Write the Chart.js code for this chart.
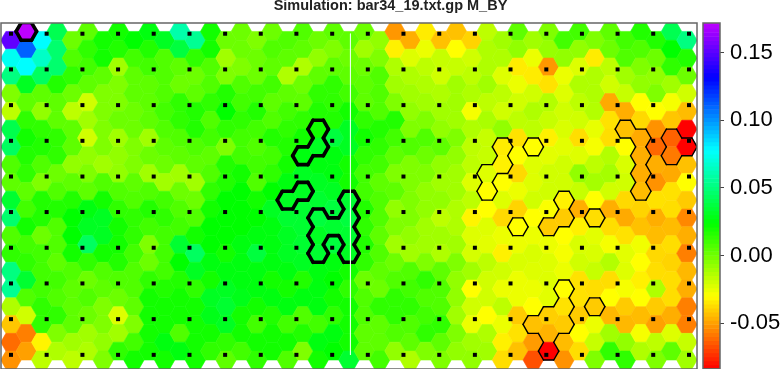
<!DOCTYPE html>
<html>
<head>
<meta charset="utf-8">
<title>Simulation: bar34_19.txt.gp M_BY</title>
<script src="https://cdn.jsdelivr.net/npm/chart.js@4"></script>
<style>
  body { margin: 0; background: #fff; }
  #wrap { position: relative; width: 783px; height: 369px; overflow: hidden; }
  canvas { position: absolute; top: 0; display: block; }
  #hexChart { left: 0; }
  #barChart { left: 700px; }
</style>
</head>
<body>
<div id="wrap">
  <canvas id="hexChart" width="783" height="369"></canvas>
  <!-- taller than the page: the axis keeps room under its last label, which the wrap cuts off -->
  <canvas id="barChart" width="83" height="388"></canvas>
</div>
<script>
const titleText = 'Simulation: bar34_19.txt.gp M_BY';

// M_BY per hex column, top to bottom, in units of 0.001
const mBy = [
  [152,75,51,-3,-16,40,44,7,4,34,47,7,14,51,55,-13,-42,-61,-53],
  [172,111,78,31,4,14,20,17,14,4,10,20,10,14,34,7,-20,-57,-50],
  [78,66,44,4,-7,14,17,7,-3,17,17,1,10,10,10,14,14,-32,-16],
  [41,47,47,17,4,4,14,14,1,7,17,7,7,4,10,7,14,-3,-13],
  [1,7,14,1,-16,4,4,-7,4,17,24,24,20,7,4,4,4,-10,-16],
  [4,14,10,4,-20,-10,-20,-7,-3,4,27,31,44,14,1,7,1,-10,-13],
  [20,20,4,-3,-3,-3,-3,-10,7,20,31,31,20,7,4,-3,-3,-7,-3],
  [20,17,-10,-3,-3,1,-10,-7,-7,7,14,20,20,17,7,1,-23,-10,14],
  [24,10,4,4,1,1,-3,-3,4,7,14,14,10,7,7,4,-3,10,20],
  [27,17,10,4,4,4,-10,1,-10,7,17,10,-3,1,14,20,20,20,20],
  [31,7,7,7,10,7,4,1,-10,10,14,10,10,10,17,20,20,27,20],
  [60,37,4,1,14,14,7,4,-10,1,7,10,34,24,17,20,20,7,27],
  [55,14,1,4,17,17,7,4,-10,1,7,20,44,31,14,20,20,20,20],
  [20,20,7,7,14,7,10,4,7,14,20,24,24,27,20,31,29,20,14],
  [1,-10,-3,17,24,14,-3,17,17,24,24,24,20,27,31,34,31,14,4],
  [1,1,-3,7,10,14,10,10,20,24,24,24,27,27,27,29,20,20,10],
  [-3,1,1,10,17,10,7,10,7,20,24,27,37,27,27,20,10,20,14],
  [1,7,4,10,4,7,17,10,14,24,31,27,27,27,20,27,17,20,20],
  [7,4,-13,4,10,14,17,20,27,31,34,31,31,27,20,27,10,20,7],
  [7,4,-13,1,4,14,20,27,31,31,34,34,34,31,17,27,7,17,-3],
  [1,-7,4,14,17,20,31,27,31,34,37,31,34,27,27,27,10,27,20],
  [4,-3,4,14,14,17,37,27,27,31,37,34,37,27,24,20,14,27,24],
  [4,1,4,10,20,31,31,20,20,34,37,34,31,20,14,20,20,20,34],
  [1,-10,1,4,4,14,20,14,10,10,17,14,17,14,1,7,7,4,4],
  [-7,-3,7,7,7,17,14,10,4,7,7,4,7,4,1,14,4,4,10],
  [-52,-33,-13,-10,-3,17,10,4,-3,4,-7,-3,-10,1,7,14,14,7,-7],
  [-47,-23,-13,-10,-7,-3,7,-3,-3,-3,-3,-7,-10,7,10,14,7,4,-13],
  [-34,-26,-16,-13,-10,-3,7,1,-3,-7,-7,-10,-10,-3,14,7,10,14,-3],
  [-43,-18,-20,-13,-10,-7,4,-7,-10,-7,-16,-10,-13,4,7,7,14,4,-3],
  [-43,-30,-18,-10,-10,-10,-3,-7,-10,-10,-13,-13,-10,-3,-7,-7,-10,-3,-7],
  [-39,-20,-16,-13,-28,-13,-16,-16,-23,-16,-32,-23,-21,-10,-30,-20,-26,-10,-7],
  [-16,-13,-13,-10,-16,-12,-18,-18,-23,-30,-30,-23,-24,-16,-20,-20,-30,-13,-10],
  [-10,-13,-23,-16,-20,-7,-34,-33,-30,-23,-38,-26,-33,-20,-26,-16,-26,-33,-37],
  [4,-7,-34,-26,-20,-16,-36,-30,-38,-26,-39,-30,-26,-22,-26,-26,-41,-36,-43],
  [-10,-26,-34,-20,-13,-16,-30,-23,-23,-20,-30,-26,-22,-23,-26,-30,-43,-51,-67],
  [-3,-8,-52,-36,-14,-18,-33,-24,-20,-20,-29,-41,-26,-23,-23,-24,-40,-46,-84],
  [10,-7,-26,-23,-20,-22,-24,-20,-20,-33,-41,-30,-28,-26,-30,-36,-41,-44,-53],
  [10,-7,-23,-13,-16,-20,-37,-23,-7,-18,-47,-33,-22,-20,-36,-36,-41,-30,-37],
  [-3,-34,-13,-13,-14,-25,-28,-16,-11,-30,-37,-24,-22,-18,-37,-41,-26,-18,-3],
  [4,1,-16,-20,-48,-36,-37,-14,-11,-20,-47,-37,-28,-14,-37,-30,-45,-10,14],
  [10,7,-10,-18,-47,-43,-30,-22,-20,-38,-48,-36,-24,-23,-28,-41,-45,-7,14],
  [17,7,-3,-7,-30,-38,-48,-47,-47,-44,-39,-43,-27,-30,-33,-30,-44,-28,-13],
  [17,1,-7,-3,-30,-53,-62,-47,-53,-36,-47,-44,-38,-37,-13,-41,-50,-16,-3],
  [41,24,14,-10,-28,-42,-63,-58,-48,-36,-37,-44,-37,-39,-37,-37,-47,-23,4],
  [51,17,1,-20,-44,-84,-84,-43,-30,-41,-55,-47,-57,-45,-47,-57,-57,-18,-10]
];

// outlined clusters as [column, row] cells
const thickCells = [
  [1,0],
  [20,5],[20,6],[19,7],
  [18,9],[19,9],
  [22,9],[22,10],[22,11],[22,12],[21,11],[20,10],[20,11],[20,12]
];
const thinCells = [
  [32,6],[32,7],[31,8],[31,9],
  [34,6],
  [33,11],
  [36,9],[36,10],[35,11],
  [38,10],
  [40,5],[41,6],[41,7],[41,8],[41,9],
  [43,6],[43,7],[44,6],
  [36,14],[36,15],[36,16],[35,16],[35,17],[35,18],[34,16],
  [38,15]
];

// black marker lattice, in hex column / row units
const dotX = [0,2.32,4.65,6.97,9.29,11.62,13.94,16.26,18.58,20.91,23.23,25.55,27.88,30.2,32.52,34.85,37.17,39.49,41.81,44.14];
const dotY = [-0.37,1.64,3.65,5.66,7.67,9.67,11.68,13.69,15.7,17.71];

// white seam line
const seamX = [22.1, 22.1];
const seamY = [-0.37, 17.71];

const colorMin = -0.0838;
const colorMax = 0.172;
const colorTicks = [-0.05, 0, 0.05, 0.1, 0.15];
const barLevels = [
  -0.0825,-0.0795,-0.0765,-0.0735,-0.0705,-0.0675,-0.0645,-0.0615,-0.0585,-0.0555,-0.0525,-0.0495,-0.0465,-0.0435,-0.0405,
  -0.0375,-0.0345,-0.0315,-0.0285,-0.0255,-0.0225,-0.0195,-0.0165,-0.0135,-0.0105,-0.0075,-0.0045,-0.0015,0.0015,0.0045,
  0.0075,0.0105,0.0135,0.0165,0.0195,0.0225,0.0255,0.0285,0.0315,0.0345,0.0375,0.0405,0.0435,0.0465,0.0495,
  0.0525,0.0555,0.0585,0.0615,0.0645,0.0675,0.0705,0.0735,0.0765,0.0795,0.0825,0.0855,0.0885,0.0915,0.0945,
  0.0975,0.1005,0.1035,0.1065,0.1095,0.1125,0.1155,0.1185,0.1215,0.1245,0.1275,0.1305,0.1335,0.1365,0.1395,
  0.1425,0.1455,0.1485,0.1515,0.1545,0.1575,0.1605,0.1635,0.1665,0.1695,0.1725
];

const hue = v => 285 * Math.min(1, Math.max(0, (v - colorMin) / (colorMax - colorMin)));
const color = v => `hsl(${hue(v)}, 100%, 50%)`;

const hexPoints = [];
mBy.forEach((col, c) => col.forEach((v, k) => {
  hexPoints.push({ x: c, y: c % 2 ? k - 0.5 : k, v: v / 1000 });
}));
const dotPoints = [];
dotY.forEach(y => dotX.forEach(x => dotPoints.push({ x, y })));

// cell neighbour for each of the six edges, clockwise from lower right
function neighbour(c, k, edge) {
  const odd = c % 2;
  return [
    [c + 1, odd ? k : k + 1],
    [c, k + 1],
    [c - 1, odd ? k : k + 1],
    [c - 1, odd ? k - 1 : k],
    [c, k - 1],
    [c + 1, odd ? k - 1 : k]
  ][edge];
}

// flat-topped hexagon: s is the half width, h the half height
const hexShape = [[1, 0], [0.5, 1], [-0.5, 1], [-1, 0], [-0.5, -1], [0.5, -1]];
function hexVertex(cx, cy, s, h, i) {
  const v = hexShape[i % 6];
  return [cx + s * v[0], cy + h * v[1]];
}

function strokeOutline(chart, cells, width) {
  const { ctx, scales: { x, y } } = chart;
  const s = x.getPixelForValue(2 / 3) - x.getPixelForValue(0);
  const h = y.getPixelForValue(0.5) - y.getPixelForValue(0);
  const has = (c, k) => cells.some(p => p[0] === c && p[1] === k);
  ctx.strokeStyle = '#000';
  ctx.lineWidth = width;
  ctx.lineCap = 'round';
  cells.forEach(([c, k]) => {
    const cx = x.getPixelForValue(c);
    const cy = y.getPixelForValue(c % 2 ? k - 0.5 : k);
    for (let e = 0; e < 6; e++) {
      const [nc, nk] = neighbour(c, k, e);
      if (has(nc, nk)) continue;
      const a = hexVertex(cx, cy, s, h, e);
      const b = hexVertex(cx, cy, s, h, e + 1);
      ctx.beginPath();
      ctx.moveTo(a[0], a[1]);
      ctx.lineTo(b[0], b[1]);
      ctx.stroke();
    }
  });
}

const hexPlugin = {
  id: 'hexCells',
  beforeDatasetsDraw(chart) {
    const { ctx, chartArea: area, scales: { x, y } } = chart;
    const s = x.getPixelForValue(2 / 3) - x.getPixelForValue(0);
    const h = y.getPixelForValue(0.5) - y.getPixelForValue(0);
    const meta = chart.getDatasetMeta(0);
    ctx.save();
    ctx.beginPath();
    ctx.rect(area.left, area.top, area.right - area.left, area.bottom - area.top);
    ctx.clip();
    meta.data.forEach((el, i) => {
      const fill = color(hexPoints[i].v);
      ctx.beginPath();
      for (let j = 0; j < 6; j++) {
        const p = hexVertex(el.x, el.y, s, h, j);
        if (j === 0) ctx.moveTo(p[0], p[1]); else ctx.lineTo(p[0], p[1]);
      }
      ctx.closePath();
      ctx.fillStyle = fill;
      ctx.strokeStyle = fill;
      ctx.lineWidth = 0.6;
      ctx.fill();
      ctx.stroke();
    });
    strokeOutline(chart, thinCells, 1.4);
    strokeOutline(chart, thickCells, 3.6);
    ctx.restore();
  }
};

const framePlugin = {
  id: 'frame',
  afterDatasetsDraw(chart) {
    const { ctx, chartArea: a } = chart;
    ctx.save();
    ctx.strokeStyle = '#666';
    ctx.lineWidth = 1.5;
    ctx.strokeRect(a.left, a.top, a.right - a.left, a.bottom - a.top);
    ctx.restore();
  }
};

new Chart(document.getElementById('hexChart'), {
  type: 'scatter',
  data: {
    datasets: [
      { label: 'M_BY', data: hexPoints, pointRadius: 0, order: 3 },
      { label: 'seam', data: seamX.map((x, i) => ({ x, y: seamY[i] })), showLine: true, borderColor: '#e8ffe8', borderWidth: 1, pointRadius: 0, order: 2 },
      { label: 'markers', data: dotPoints, pointStyle: 'rect', pointRadius: 2.83, pointBorderWidth: 0, backgroundColor: '#000', borderColor: '#000', order: 1 }
    ]
  },
  options: {
    responsive: false,
    animation: false,
    devicePixelRatio: 1,
    layout: { autoPadding: false, padding: { left: 1, right: 3, top: 0, bottom: 0 } },
    plugins: {
      legend: { display: false },
      tooltip: { enabled: false },
      title: {
        display: true,
        text: titleText,
        color: '#222',
        font: { family: '"Liberation Sans", Arial, sans-serif', size: 14.5, weight: 'bold', lineHeight: 1 },
        padding: { top: -1, bottom: 9.5 }
      }
    },
    scales: {
      x: { type: 'linear', display: false, min: -0.651, max: 44.66 },
      y: { type: 'linear', display: false, reverse: true, min: -0.974, max: 18.507 },
      // empty axis that keeps room for the colour bar beside the plot
      spacer: {
        type: 'linear',
        position: 'right',
        afterFit: s => { s.width = 83; },
        ticks: { display: false },
        grid: { display: false },
        border: { display: false }
      }
    }
  },
  plugins: [hexPlugin, framePlugin]
});

new Chart(document.getElementById('barChart'), {
  type: 'bar',
  data: {
    datasets: [{
      data: barLevels.map(v => ({ x: 1, y: v })),
      backgroundColor: barLevels.map(color),
      barPercentage: 1,
      categoryPercentage: 1,
      grouped: false
    }]
  },
  options: {
    indexAxis: 'y',
    responsive: false,
    animation: false,
    devicePixelRatio: 1,
    layout: { autoPadding: false, padding: { left: 3, right: 0, top: 23, bottom: 0 } },
    plugins: { legend: { display: false }, tooltip: { enabled: false } },
    scales: {
      x: { type: 'linear', display: false, min: 0, max: 1 },
      y: {
        type: 'linear',
        position: 'right',
        offset: false,
        min: colorMin,
        max: colorMax,
        afterFit: s => { s.width = 63; },
        afterBuildTicks: s => { s.ticks = colorTicks.map(value => ({ value })); },
        border: { display: false },
        grid: { drawOnChartArea: false, drawTicks: true, tickLength: 4, color: '#444', offset: false },
        ticks: {
          autoSkip: false,
          padding: 6,
          color: '#000',
          font: { family: '"Liberation Sans", Arial, sans-serif', size: 22 },
          callback: v => v.toFixed(2)
        }
      }
    }
  },
  plugins: [framePlugin]
});
</script>
</body>
</html>
